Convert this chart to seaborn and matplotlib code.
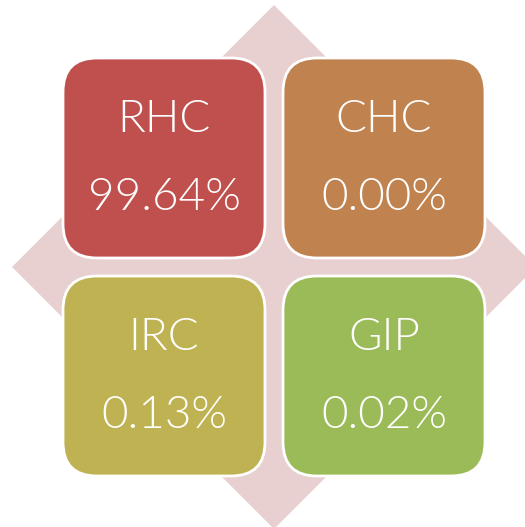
import matplotlib
matplotlib.use("Agg")
import matplotlib.pyplot as plt
from matplotlib.patches import FancyBboxPatch, Polygon
import seaborn as sns

# Data
categories = ["RHC", "CHC", "IRC", "GIP"]
values = [99.64, 0.00, 0.13, 0.02]
colors = ["#C0504D", "#C0834F", "#BFB252", "#9BBB59"]
diamond_color = "#E8CFD0"

sns.set_theme(style="white")
plt.rcParams['font.family'] = ['Lato', 'DejaVu Sans']

W, H = 525, 527
fig = plt.figure(figsize=(W / 100, H / 100), dpi=100)
ax = fig.add_axes([0, 0, 1, 1])
ax.set_xlim(0, W)
ax.set_ylim(H, 0)
ax.axis("off")

# layout
cx, cy = 274, 267
half_diag = 262
box_w, box_h = 202, 200
gap = 18
radius = 34

diamond = Polygon([(cx, cy - half_diag), (cx + half_diag, cy),
                   (cx, cy + half_diag), (cx - half_diag, cy)],
                  closed=True, facecolor=diamond_color, edgecolor="none", zorder=1)
ax.add_patch(diamond)

for i, (cat, val, col) in enumerate(zip(categories, values, colors)):
    r, c = divmod(i, 2)
    x0 = cx - gap / 2 - box_w if c == 0 else cx + gap / 2
    y0 = cy - gap / 2 - box_h if r == 0 else cy + gap / 2
    box = FancyBboxPatch((x0, y0), box_w, box_h,
                         boxstyle=f"round,pad=0,rounding_size={radius}",
                         facecolor=col, edgecolor="white", linewidth=2, zorder=2)
    ax.add_patch(box)
    xm = x0 + box_w / 2
    ax.text(xm, y0 + 74, cat, color="white", fontsize=33, fontweight=300,
            ha="center", va="baseline", zorder=3)
    ax.text(xm, y0 + 152, f"{val:.2f}%", color="white", fontsize=33, fontweight=300,
            ha="center", va="baseline", zorder=3)

fig.savefig("out.png", dpi=100)
